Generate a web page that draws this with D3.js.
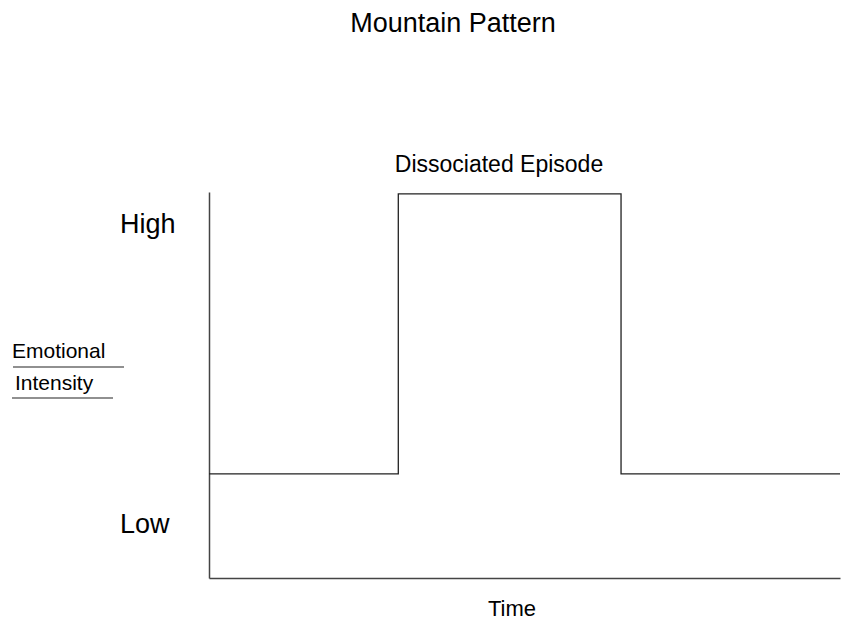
<!DOCTYPE html>
<html>
<head>
<meta charset="utf-8">
<script src="https://cdn.jsdelivr.net/npm/d3@7"></script>
<style>
  body { margin: 0; background: #fff; }
  text { font-family: "Liberation Sans", Arial, sans-serif; fill: #000; }
</style>
</head>
<body>
<div id="chart"></div>
<script>
// Step data: time breakpoints and the intensity level from each one on
const timeVals = [0, 3, 6.53, 10];
const levels = [0.27, 0.995, 0.27, 0.27];
const levelLabels = ["High", "Low"];
const levelLabelPos = [0.895, 0.117];

const width = 841;
const height = 621;
const margin = { top: 192, right: 1, bottom: 43, left: 209 };

const svg = d3.select("#chart")
    .append("svg")
    .attr("width", width)
    .attr("height", height);

const x = d3.scaleLinear().domain([0, 10]).range([margin.left, width - margin.right]);
const y = d3.scaleLinear().domain([0, 1]).range([height - margin.bottom, margin.top]);

// Axes with no ticks, just the lines
svg.append("g")
    .attr("transform", `translate(0, ${y(0)})`)
    .call(d3.axisBottom(x).ticks(0).tickSizeOuter(0))
    .select(".domain")
    .attr("stroke", "#444")
    .attr("stroke-width", 1.5);

svg.append("g")
    .attr("transform", `translate(${x(0)}, 0)`)
    .call(d3.axisLeft(y).ticks(0).tickSizeOuter(0))
    .select(".domain")
    .attr("stroke", "#444")
    .attr("stroke-width", 1.5);

// Step line
const line = d3.line()
    .x((d, i) => x(timeVals[i]))
    .y(d => y(d))
    .curve(d3.curveStepAfter);

svg.append("path")
    .datum(levels)
    .attr("fill", "none")
    .attr("stroke", "#222")
    .attr("stroke-width", 1.3)
    .attr("d", line);

// Title and labels
svg.append("text")
    .attr("x", 453).attr("y", 32)
    .attr("text-anchor", "middle")
    .style("font-size", "27px")
    .text("Mountain Pattern");

svg.append("text")
    .attr("x", 499).attr("y", 172)
    .attr("text-anchor", "middle")
    .style("font-size", "23px")
    .text("Dissociated Episode");

svg.append("text")
    .attr("x", 512).attr("y", 616)
    .attr("text-anchor", "middle")
    .style("font-size", "22px")
    .text("Time");

svg.selectAll(".lvl")
    .data(levelLabels)
    .enter()
    .append("text")
    .attr("class", "lvl")
    .attr("x", 120)
    .attr("y", (d, i) => y(levelLabelPos[i]))
    .style("font-size", "27px")
    .text(d => d);

// Y label with underlines
const ylab = [
    { t: "Emotional", x: 12, y: 358, x1: 13, x2: 124, ly: 367 },
    { t: "Intensity", x: 15, y: 390, x1: 12, x2: 113, ly: 398 }
];
ylab.forEach(d => {
    svg.append("text")
        .attr("x", d.x).attr("y", d.y)
        .style("font-size", "21px")
        .text(d.t);
    svg.append("line")
        .attr("x1", d.x1).attr("x2", d.x2)
        .attr("y1", d.ly).attr("y2", d.ly)
        .attr("stroke", "#222")
        .attr("stroke-width", 1.2);
});
</script>
</body>
</html>
